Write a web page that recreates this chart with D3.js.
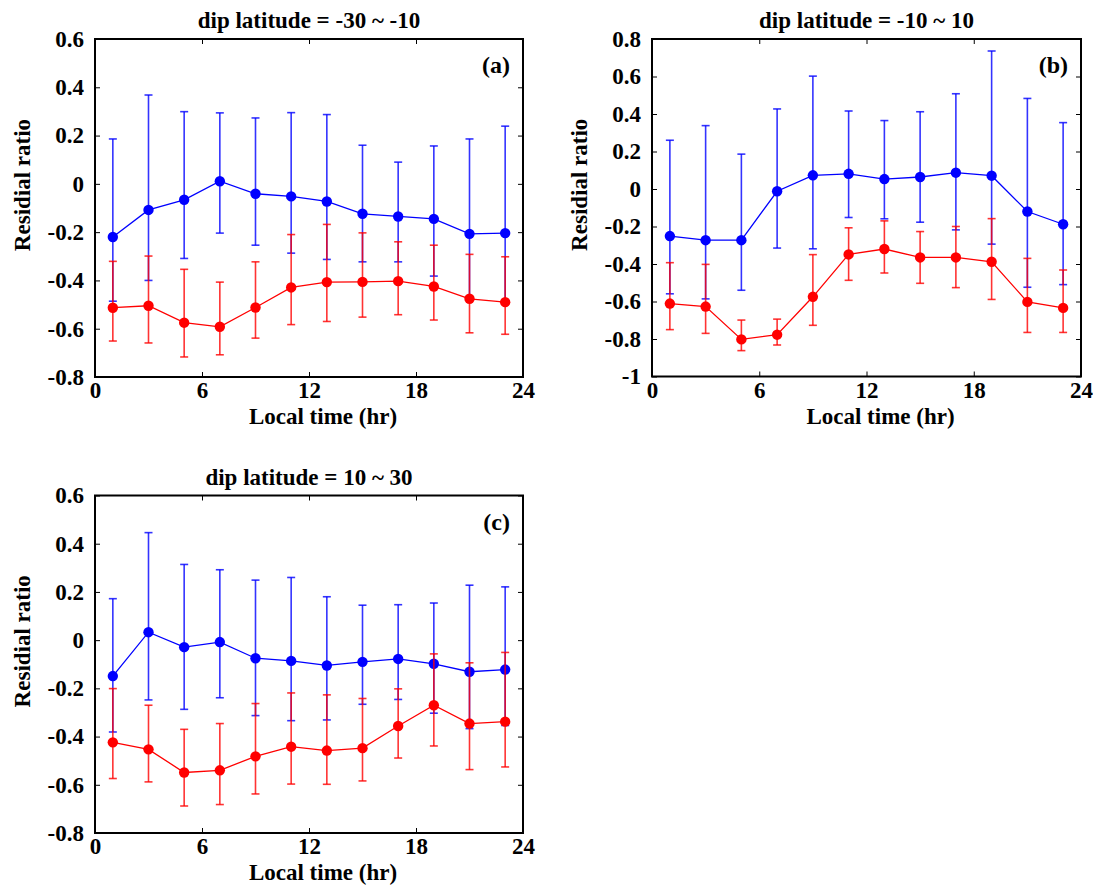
<!DOCTYPE html>
<html>
<head>
<meta charset="utf-8">
<script src="https://cdn.jsdelivr.net/npm/d3@7"></script>
<style>
  body { margin: 0; background: #fff; }
  svg text { font-family: "Liberation Serif", "Times New Roman", serif; font-weight: bold; fill: #000; }
</style>
</head>
<body>
<svg id="chart" width="1093" height="885"></svg>
<script>
// local time bins (hr)
const hours = [1, 3, 5, 7, 9, 11, 13, 15, 17, 19, 21, 23];
const xTicks = [0, 6, 12, 18, 24];
const yTicksAC = [-0.8, -0.6, -0.4, -0.2, 0, 0.2, 0.4, 0.6];
const yTicksB = [-1, -0.8, -0.6, -0.4, -0.2, 0, 0.2, 0.4, 0.6, 0.8];

// (a) dip latitude -30 ~ -10
const aBlue   = [-0.220, -0.108, -0.066, 0.011, -0.041, -0.052, -0.073, -0.124, -0.135, -0.145, -0.207, -0.204];
const aBlueHi = [0.186, 0.368, 0.299, 0.294, 0.273, 0.295, 0.287, 0.160, 0.090, 0.157, 0.186, 0.239];
const aBlueLo = [-0.486, -0.400, -0.309, -0.204, -0.254, -0.287, -0.313, -0.323, -0.323, -0.382, -0.480, -0.490];
const aRed    = [-0.513, -0.505, -0.575, -0.592, -0.512, -0.429, -0.407, -0.406, -0.403, -0.425, -0.476, -0.490];
const aRedHi  = [-0.321, -0.299, -0.354, -0.407, -0.323, -0.210, -0.168, -0.203, -0.240, -0.254, -0.292, -0.302];
const aRedLo  = [-0.651, -0.659, -0.717, -0.708, -0.639, -0.583, -0.570, -0.552, -0.542, -0.564, -0.617, -0.623];

// (b) dip latitude -10 ~ 10
const bBlue   = [-0.251, -0.273, -0.273, -0.012, 0.073, 0.081, 0.053, 0.064, 0.087, 0.071, -0.120, -0.188];
const bBlueHi = [0.260, 0.338, 0.186, 0.427, 0.602, 0.416, 0.365, 0.412, 0.508, 0.736, 0.483, 0.354];
const bBlueLo = [-0.559, -0.586, -0.540, -0.315, -0.319, -0.152, -0.159, -0.177, -0.218, -0.294, -0.524, -0.510];
const bRed    = [-0.611, -0.627, -0.802, -0.777, -0.575, -0.349, -0.320, -0.365, -0.365, -0.388, -0.602, -0.634];
const bRedHi  = [-0.393, -0.402, -0.699, -0.694, -0.350, -0.207, -0.170, -0.227, -0.200, -0.158, -0.370, -0.432];
const bRedLo  = [-0.750, -0.770, -0.862, -0.832, -0.727, -0.487, -0.448, -0.503, -0.526, -0.589, -0.765, -0.765];

// (c) dip latitude 10 ~ 30
const cBlue   = [-0.149, 0.033, -0.029, -0.008, -0.075, -0.086, -0.105, -0.090, -0.078, -0.098, -0.131, -0.122];
const cBlueHi = [0.172, 0.446, 0.314, 0.292, 0.249, 0.260, 0.180, 0.145, 0.147, 0.154, 0.228, 0.221];
const cBlueLo = [-0.381, -0.248, -0.287, -0.239, -0.313, -0.334, -0.331, -0.266, -0.246, -0.303, -0.367, -0.354];
const cRed    = [-0.424, -0.453, -0.549, -0.540, -0.482, -0.442, -0.458, -0.448, -0.356, -0.270, -0.346, -0.338];
const cRedHi  = [-0.201, -0.270, -0.370, -0.346, -0.263, -0.219, -0.227, -0.242, -0.202, -0.057, -0.094, -0.051];
const cRedLo  = [-0.574, -0.588, -0.688, -0.682, -0.638, -0.597, -0.598, -0.584, -0.489, -0.439, -0.537, -0.526];

const svg = d3.select("#chart");
const serif = '"Liberation Serif", "Times New Roman", serif';
const fmt = d => String(+d.toFixed(1));

const makeSeries = (v, hi, lo) => hours.map((h, i) => ({ h, v: v[i], hi: hi[i], lo: lo[i] }));

const panels = [
    { title: "dip latitude = -30 ~ -10", tag: "(a)", left: 95, right: 523, top: 39, bottom: 377,
      yDomain: [-0.8, 0.6], yTicks: yTicksAC,
      blue: makeSeries(aBlue, aBlueHi, aBlueLo), red: makeSeries(aRed, aRedHi, aRedLo) },
    { title: "dip latitude = -10 ~ 10", tag: "(b)", left: 652, right: 1081, top: 39, bottom: 376.5,
      yDomain: [-1, 0.8], yTicks: yTicksB,
      blue: makeSeries(bBlue, bBlueHi, bBlueLo), red: makeSeries(bRed, bRedHi, bRedLo) },
    { title: "dip latitude = 10 ~ 30", tag: "(c)", left: 95, right: 523, top: 495.5, bottom: 833,
      yDomain: [-0.8, 0.6], yTicks: yTicksAC,
      blue: makeSeries(cBlue, cBlueHi, cBlueLo), red: makeSeries(cRed, cRedHi, cRedLo) }
];

const drawSeries = (g, data, x, y, color) => {
    const line = d3.line().x(d => x(d.h)).y(d => y(d.v));
    g.append("path")
        .datum(data)
        .attr("d", line)
        .attr("fill", "none")
        .attr("stroke", color)
        .attr("stroke-width", 1.3);

    const bars = g.append("g")
        .attr("stroke", color)
        .attr("stroke-opacity", 0.8)
        .attr("stroke-width", 1.6);
    bars.selectAll(".stem").data(data).enter().append("line")
        .attr("x1", d => x(d.h)).attr("x2", d => x(d.h))
        .attr("y1", d => y(d.hi)).attr("y2", d => y(d.lo));
    bars.selectAll(".cap-hi").data(data).enter().append("line")
        .attr("x1", d => x(d.h) - 4).attr("x2", d => x(d.h) + 4)
        .attr("y1", d => y(d.hi)).attr("y2", d => y(d.hi));
    bars.selectAll(".cap-lo").data(data).enter().append("line")
        .attr("x1", d => x(d.h) - 4).attr("x2", d => x(d.h) + 4)
        .attr("y1", d => y(d.lo)).attr("y2", d => y(d.lo));

    g.selectAll(null).data(data).enter().append("circle")
        .attr("cx", d => x(d.h))
        .attr("cy", d => y(d.v))
        .attr("r", 5.2)
        .attr("fill", color);
};

const drawPanel = (p) => {
    const x = d3.scaleLinear().domain([0, 24]).range([p.left, p.right]);
    const y = d3.scaleLinear().domain(p.yDomain).range([p.bottom, p.top]);
    const g = svg.append("g");

    const tidy = sel => {
        sel.attr("font-family", serif).attr("font-weight", "bold");
        sel.select(".domain").remove();
        sel.selectAll("line").attr("stroke", "#000").attr("stroke-width", 1);
        sel.selectAll("text")
            .attr("fill", "#000")
            .style("font-family", serif)
            .style("font-weight", "bold")
            .style("font-size", "23px");
    };

    // inward ticks on all four sides, MATLAB style
    g.append("g").attr("transform", `translate(0,${p.bottom})`)
        .call(d3.axisBottom(x).tickValues(xTicks).tickSize(-5).tickPadding(5).tickFormat(d3.format("d")))
        .call(tidy);
    g.append("g").attr("transform", `translate(0,${p.top})`)
        .call(d3.axisTop(x).tickValues(xTicks).tickSize(-5).tickFormat(""))
        .call(tidy);
    g.append("g").attr("transform", `translate(${p.left},0)`)
        .call(d3.axisLeft(y).tickValues(p.yTicks).tickSize(-5).tickPadding(11).tickFormat(fmt))
        .call(tidy);
    g.append("g").attr("transform", `translate(${p.right},0)`)
        .call(d3.axisRight(y).tickValues(p.yTicks).tickSize(-5).tickFormat(""))
        .call(tidy);

    drawSeries(g, p.blue, x, y, "#0000ff");
    drawSeries(g, p.red, x, y, "#ff0000");

    g.append("rect")
        .attr("x", p.left).attr("y", p.top)
        .attr("width", p.right - p.left).attr("height", p.bottom - p.top)
        .attr("fill", "none")
        .attr("stroke", "#000")
        .attr("stroke-width", 2);

    g.append("text")
        .attr("x", (p.left + p.right) / 2)
        .attr("y", p.top - 11)
        .attr("text-anchor", "middle")
        .style("font-size", "23px")
        .text(p.title);

    g.append("text")
        .attr("x", p.right - 13)
        .attr("y", p.top + 34)
        .attr("text-anchor", "end")
        .style("font-size", "24px")
        .text(p.tag);

    g.append("text")
        .attr("x", (p.left + p.right) / 2 + 14)
        .attr("y", p.bottom + 47)
        .attr("text-anchor", "middle")
        .style("font-size", "23px")
        .text("Local time (hr)");

    const cy = (p.top + p.bottom) / 2 - 23;
    g.append("text")
        .attr("transform", `translate(${p.left - 65},${cy}) rotate(-90)`)
        .attr("text-anchor", "middle")
        .style("font-size", "23px")
        .text("Residial ratio");
};

panels.forEach(drawPanel);
</script>
</body>
</html>
